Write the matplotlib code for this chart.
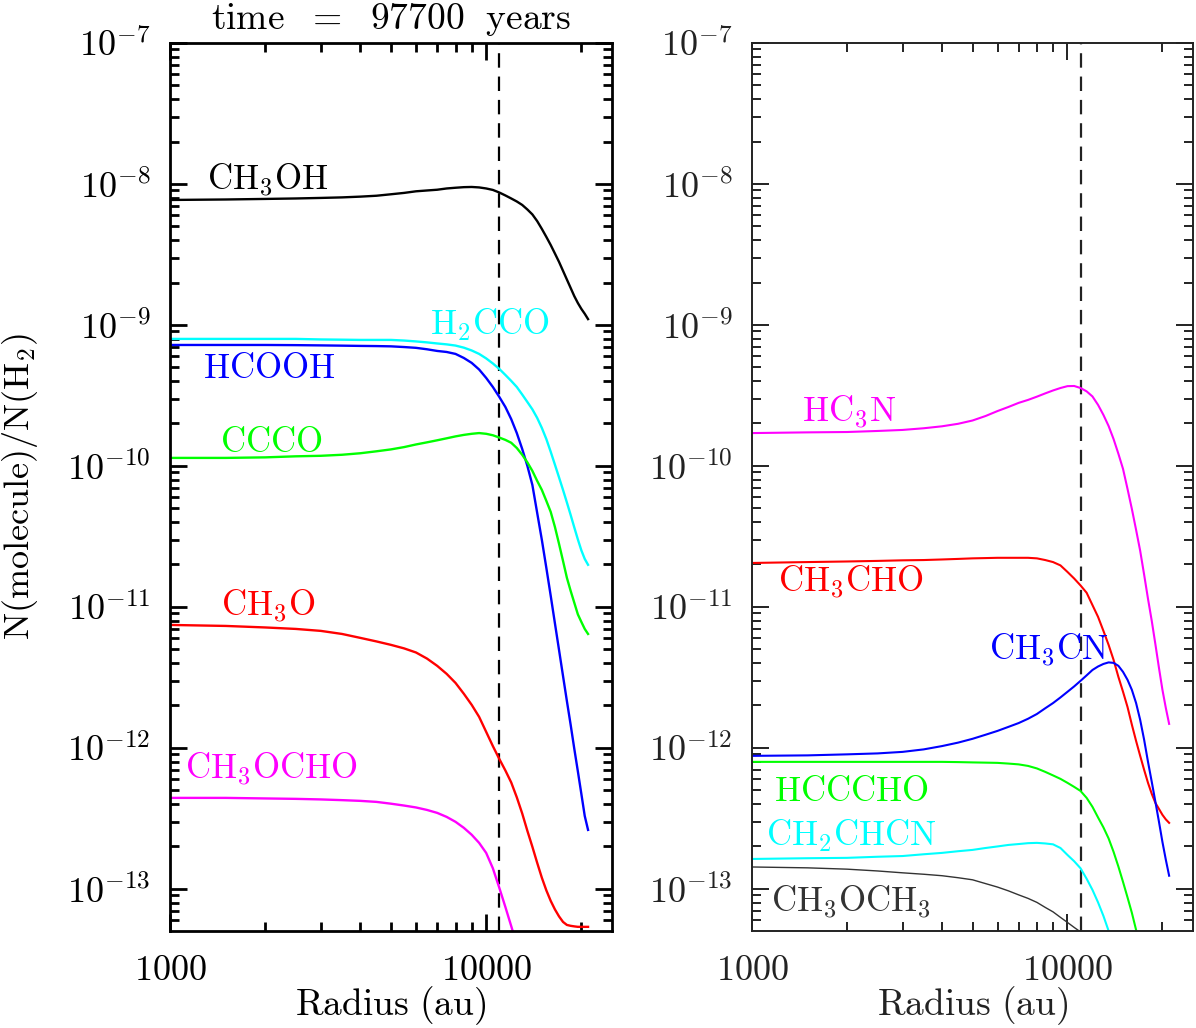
import matplotlib
matplotlib.use("Agg")
import matplotlib.pyplot as plt
import numpy as np
from matplotlib.ticker import LogLocator, FuncFormatter, NullFormatter

plt.rcParams["mathtext.fontset"] = "cm"

# ==================================================
# Data
# ==================================================
radius = [1000, 1500, 2000, 2500, 3000, 3500, 4000, 4500, 5000, 5500, 6000, 6500, 7000, 7500,
          8000, 8500, 9000, 9500, 10000, 10500, 11000, 11500, 12000, 12500, 13000, 13500, 14000,
          14500, 15000, 15500, 16000, 16500, 17000, 17500, 18000, 18500, 19000, 19500, 20000,
          20500, 21000]

# left panel
ch3oh = [7.70e-9, 7.76e-9, 7.83e-9, 7.89e-9, 7.96e-9, 8.03e-9, 8.13e-9, 8.25e-9, 8.45e-9, 8.64e-9,
         8.87e-9, 8.99e-9, 9.10e-9, 9.29e-9, 9.40e-9, 9.49e-9, 9.52e-9, 9.45e-9, 9.29e-9, 9.07e-9,
         8.70e-9, 8.29e-9, 7.89e-9, 7.51e-9, 7.10e-9, 6.59e-9, 6.08e-9, 5.45e-9, 4.80e-9, 4.21e-9,
         3.69e-9, 3.21e-9, 2.80e-9, 2.42e-9, 2.10e-9, 1.83e-9, 1.60e-9, 1.43e-9, 1.30e-9, 1.20e-9,
         1.10e-9]
h2cco = [7.96e-10, 7.96e-10, 7.96e-10, 7.96e-10, 7.89e-10, 7.86e-10, 7.83e-10, 7.83e-10, 7.83e-10,
         7.75e-10, 7.64e-10, 7.52e-10, 7.39e-10, 7.28e-10, 7.14e-10, 6.90e-10, 6.59e-10, 6.23e-10,
         5.79e-10, 5.33e-10, 4.88e-10, 4.42e-10, 4.01e-10, 3.63e-10, 3.21e-10, 2.84e-10, 2.52e-10,
         2.19e-10, 1.86e-10, 1.55e-10, 1.26e-10, 1.02e-10, 8.29e-11, 6.76e-11, 5.51e-11, 4.49e-11,
         3.66e-11, 3.01e-11, 2.52e-11, 2.19e-11, 1.99e-11]
hcooh = [7.21e-10, 7.21e-10, 7.21e-10, 7.19e-10, 7.16e-10, 7.13e-10, 7.10e-10, 7.08e-10, 7.05e-10,
         6.97e-10, 6.88e-10, 6.72e-10, 6.54e-10, 6.43e-10, 6.23e-10, 5.83e-10, 5.38e-10, 4.83e-10,
         4.21e-10, 3.63e-10, 3.09e-10, 2.62e-10, 2.15e-10, 1.71e-10, 1.32e-10, 1.00e-10, 7.33e-11,
         4.64e-11, 2.99e-11, 1.89e-11, 1.20e-11, 7.64e-12, 4.95e-12, 3.24e-12, 2.15e-12, 1.46e-12,
         9.84e-13, 6.81e-13, 4.72e-13, 3.29e-13, 2.62e-13]
ccco = [1.14e-10, 1.14e-10, 1.15e-10, 1.17e-10, 1.18e-10, 1.20e-10, 1.23e-10, 1.27e-10, 1.31e-10,
        1.36e-10, 1.42e-10, 1.47e-10, 1.52e-10, 1.57e-10, 1.62e-10, 1.66e-10, 1.69e-10, 1.71e-10,
        1.69e-10, 1.65e-10, 1.59e-10, 1.53e-10, 1.46e-10, 1.34e-10, 1.20e-10, 1.06e-10, 9.22e-11,
        7.83e-11, 6.76e-11, 5.65e-11, 4.72e-11, 3.69e-11, 2.80e-11, 2.12e-11, 1.61e-11, 1.30e-11,
        1.07e-11, 8.85e-12, 7.83e-12, 6.98e-12, 6.43e-12]
ch3o = [7.45e-12, 7.33e-12, 7.15e-12, 6.98e-12, 6.76e-12, 6.43e-12, 6.03e-12, 5.69e-12, 5.38e-12,
        5.08e-12, 4.75e-12, 4.30e-12, 3.82e-12, 3.35e-12, 2.89e-12, 2.42e-12, 2.02e-12, 1.66e-12,
        1.30e-12, 1.03e-12, 8.36e-13, 6.92e-13, 5.69e-13, 4.46e-13, 3.43e-13, 2.58e-13, 1.99e-13,
        1.53e-13, 1.20e-13, 9.76e-14, 8.22e-14, 7.15e-14, 6.38e-14, 5.83e-14, 5.55e-14, 5.47e-14,
        5.42e-14, 5.38e-14, 5.38e-14, 5.38e-14, 5.38e-14]
ch3ocho = [4.42e-13, 4.42e-13, 4.38e-13, 4.35e-13, 4.31e-13, 4.26e-13, 4.21e-13, 4.14e-13, 4.02e-13,
           3.90e-13, 3.78e-13, 3.63e-13, 3.46e-13, 3.24e-13, 2.99e-13, 2.71e-13, 2.42e-13, 2.12e-13,
           1.80e-13, 1.40e-13, 1.02e-13, 7.45e-14, 5.45e-14, 4.01e-14]

# right panel
hc3n = [1.71e-10, 1.73e-10, 1.74e-10, 1.77e-10, 1.80e-10, 1.85e-10, 1.91e-10, 1.99e-10, 2.10e-10,
        2.26e-10, 2.45e-10, 2.62e-10, 2.80e-10, 2.94e-10, 3.10e-10, 3.27e-10, 3.43e-10, 3.57e-10,
        3.68e-10, 3.69e-10, 3.57e-10, 3.38e-10, 3.11e-10, 2.71e-10, 2.30e-10, 1.92e-10, 1.55e-10,
        1.22e-10, 9.52e-11, 6.87e-11, 4.95e-11, 3.52e-11, 2.50e-11, 1.69e-11, 1.14e-11, 7.96e-12,
        5.42e-12, 3.69e-12, 2.58e-12, 1.92e-12, 1.48e-12]
ch3cho = [2.05e-11, 2.08e-11, 2.10e-11, 2.12e-11, 2.14e-11, 2.15e-11, 2.17e-11, 2.19e-11, 2.21e-11,
          2.22e-11, 2.23e-11, 2.23e-11, 2.23e-11, 2.23e-11, 2.21e-11, 2.15e-11, 2.08e-11, 1.97e-11,
          1.77e-11, 1.59e-11, 1.42e-11, 1.26e-11, 1.03e-11, 8.50e-12, 6.76e-12, 5.38e-12, 4.21e-12,
          3.19e-12, 2.50e-12, 1.95e-12, 1.46e-12, 1.12e-12, 8.78e-13, 6.98e-13, 5.65e-13, 4.72e-13,
          4.07e-13, 3.69e-13, 3.35e-13, 3.11e-13, 2.94e-13]
ch3cn = [8.78e-13, 8.85e-13, 9.00e-13, 9.14e-13, 9.37e-13, 9.76e-13, 1.03e-12, 1.09e-12, 1.16e-12,
         1.24e-12, 1.32e-12, 1.41e-12, 1.50e-12, 1.61e-12, 1.74e-12, 1.91e-12, 2.08e-12, 2.28e-12,
         2.50e-12, 2.73e-12, 2.99e-12, 3.27e-12, 3.57e-12, 3.78e-12, 3.94e-12, 4.04e-12, 4.01e-12,
         3.82e-12, 3.46e-12, 3.04e-12, 2.58e-12, 2.08e-12, 1.58e-12, 1.14e-12, 7.96e-13, 5.74e-13,
         4.14e-13, 2.99e-13, 2.15e-13, 1.61e-13, 1.24e-13]
hcccho = [7.96e-13, 7.96e-13, 7.96e-13, 7.96e-13, 7.96e-13, 7.96e-13, 7.96e-13, 7.93e-13, 7.89e-13,
          7.86e-13, 7.83e-13, 7.74e-13, 7.64e-13, 7.45e-13, 7.15e-13, 6.76e-13, 6.38e-13, 6.03e-13,
          5.65e-13, 5.29e-13, 4.95e-13, 4.42e-13, 3.82e-13, 3.21e-13, 2.73e-13, 2.28e-13, 1.83e-13,
          1.44e-13, 1.12e-13, 8.70e-14, 6.76e-14, 5.12e-14, 4.01e-14]
ch2chcn = [1.63e-13, 1.65e-13, 1.66e-13, 1.69e-13, 1.71e-13, 1.76e-13, 1.80e-13, 1.85e-13, 1.89e-13,
           1.95e-13, 2.00e-13, 2.05e-13, 2.08e-13, 2.11e-13, 2.12e-13, 2.10e-13, 2.07e-13, 1.95e-13,
           1.74e-13, 1.57e-13, 1.40e-13, 1.18e-13, 9.84e-14, 8.02e-14, 6.43e-14, 5.04e-14, 3.94e-14]
ch3och3 = [1.43e-13, 1.41e-13, 1.38e-13, 1.34e-13, 1.30e-13, 1.27e-13, 1.24e-13, 1.20e-13, 1.16e-13,
           1.09e-13, 1.03e-13, 9.68e-14, 9.07e-14, 8.56e-14, 8.02e-14, 7.39e-14, 6.87e-14, 6.28e-14,
           5.78e-14, 5.33e-14, 4.95e-14, 4.57e-14]

r_snow = 11000
time_years = 97700

left_series = [
    (ch3oh, "black", r"$\mathrm{CH_3OH}$", 1310, 9.06e-9),
    (h2cco, "#00ffff", r"$\mathrm{H_2CCO}$", 6650, 8.5e-10),
    (hcooh, "#0000ff", r"$\mathrm{HCOOH}$", 1271, 4.2e-10),
    (ccco, "#00ff00", r"$\mathrm{CCCO}$", 1439, 1.26e-10),
    (ch3o, "#ff0000", r"$\mathrm{CH_3O}$", 1450, 8.5e-12),
    (ch3ocho, "#ff00ff", r"$\mathrm{CH_3OCHO}$", 1115, 5.93e-13),
]
right_series = [
    (hc3n, "#ff00ff", r"$\mathrm{HC_3N}$", 1440, 2.05e-10),
    (ch3cho, "#ff0000", r"$\mathrm{CH_3CHO}$", 1209, 1.26e-11),
    (ch3cn, "#0000ff", r"$\mathrm{CH_3CN}$", 5623, 4.2e-12),
    (hcccho, "#00ff00", r"$\mathrm{HCCCHO}$", 1174, 4.2e-13),
    (ch2chcn, "#00ffff", r"$\mathrm{CH_2CHCN}$", 1107, 2.02e-13),
    (ch3och3, "#333333", r"$\mathrm{CH_3OCH_3}$", 1148, 6.76e-14),
]


def style_axes(ax, color, lw):
    ax.set_xscale("log")
    ax.set_yscale("log")
    ax.set_xlim(1000, 25000)
    ax.set_ylim(5.03e-14, 1e-7)
    ax.xaxis.set_major_locator(LogLocator(base=10, numticks=10))
    ax.xaxis.set_minor_locator(LogLocator(base=10, subs=np.arange(2, 10), numticks=10))
    ax.yaxis.set_major_locator(LogLocator(base=10, numticks=20))
    ax.yaxis.set_minor_locator(LogLocator(base=10, subs=np.arange(2, 10), numticks=20))
    ax.xaxis.set_major_formatter(FuncFormatter(lambda v, p: rf"$\mathrm{{{v:.0f}}}$"))
    ax.yaxis.set_major_formatter(FuncFormatter(lambda v, p: rf"$10^{{{int(round(np.log10(v)))}}}$"))
    ax.xaxis.set_minor_formatter(NullFormatter())
    ax.yaxis.set_minor_formatter(NullFormatter())
    ax.tick_params(which="both", direction="in", top=True, right=True,
                   color=color, labelcolor=color, width=lw)
    ax.tick_params(which="major", length=12, labelsize=26)
    ax.tick_params(which="minor", length=6.5)
    ax.tick_params(axis="x", pad=16)
    ax.tick_params(axis="y", pad=14)
    for s in ax.spines.values():
        s.set_linewidth(lw)
        s.set_color(color)
    ax.axvline(r_snow, color=color, lw=1.6, dashes=(6.5, 4))
    ax.set_xlabel(r"$\mathrm{Radius\ (au)}$", fontsize=27, color=color, labelpad=-2)


fig = plt.figure(figsize=(11.96, 10.28), dpi=100)
ax1 = fig.add_axes([0.1421, 0.0944, 0.3696, 0.8638])
ax2 = fig.add_axes([0.6288, 0.0944, 0.3687, 0.8638])

style_axes(ax1, "black", 2.0)
style_axes(ax2, "#222222", 1.4)

for vals, c, lab, tx, ty in left_series:
    ax1.plot(radius[:len(vals)], vals, color=c, lw=1.7)
    ax1.text(tx, ty, lab, color=c, fontsize=25, ha="left", va="baseline")

for vals, c, lab, tx, ty in right_series:
    lw = 1.0 if c == "#333333" else 1.5
    ax2.plot(radius[:len(vals)], vals, color=c, lw=lw)
    ax2.text(tx, ty, lab, color=c, fontsize=25, ha="left", va="baseline")

ax1.set_ylabel(r"$\mathrm{N(molecule)/N(H_2)}$", fontsize=26)
ax1.yaxis.set_label_coords(-0.294, 0.5)
ax1.set_title(rf"$\mathrm{{time\ \ =\ \ {time_years}\ \ years}}$", fontsize=27, pad=10)

fig.savefig("out.png", dpi=100)
